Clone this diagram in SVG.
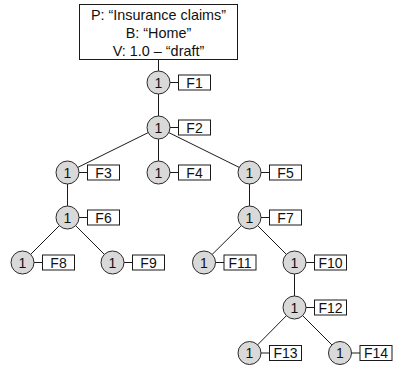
<svg xmlns="http://www.w3.org/2000/svg" width="397" height="367" viewBox="0 0 397 367">
  <style>
    .edge { stroke: #1a1a1a; stroke-width: 1; fill: none; }
    .node circle { fill: #d9d9d9; stroke: #2a2a2a; stroke-width: 1; }
    .node rect { fill: #ffffff; stroke: #1a1a1a; stroke-width: 1; }
    .node line { stroke: #1a1a1a; stroke-width: 1; }
    text { font-family: "Liberation Sans", Arial, sans-serif; font-size: 14px; fill: #111; text-anchor: middle; }
    .hdr { font-size: 14.4px; }
  </style>

  <!-- tree edges, drawn centre to centre under the circles -->
  <g id="connectors">
    <line class="edge" x1="158.5" y1="59.5" x2="158.5" y2="82.5"/>
    <line class="edge" x1="158.5" y1="82.5" x2="158.5" y2="127.5"/>
    <line class="edge" x1="158.5" y1="127.5" x2="67.5" y2="172.5"/>
    <line class="edge" x1="158.5" y1="127.5" x2="158.5" y2="172.5"/>
    <line class="edge" x1="158.5" y1="127.5" x2="249.5" y2="172.5"/>
    <line class="edge" x1="67.5" y1="172.5" x2="67.5" y2="217.5"/>
    <line class="edge" x1="67.5" y1="217.5" x2="22.5" y2="262.5"/>
    <line class="edge" x1="67.5" y1="217.5" x2="112.5" y2="262.5"/>
    <line class="edge" x1="249.5" y1="172.5" x2="249.5" y2="217.5"/>
    <line class="edge" x1="249.5" y1="217.5" x2="204" y2="262.5"/>
    <line class="edge" x1="249.5" y1="217.5" x2="294.5" y2="262.5"/>
    <line class="edge" x1="294.5" y1="262.5" x2="294.5" y2="307.5"/>
    <line class="edge" x1="294.5" y1="307.5" x2="249.5" y2="353"/>
    <line class="edge" x1="294.5" y1="307.5" x2="340" y2="353"/>
  </g>

  <!-- root header -->
  <g id="root">
    <rect x="79.5" y="4.5" width="158" height="55" fill="#fff" stroke="#1a1a1a"/>
    <text class="hdr" x="158.5" y="19.5">P: “Insurance claims”</text>
    <text class="hdr" x="158.5" y="37.5">B: “Home”</text>
    <text class="hdr" x="158.5" y="55.5">V: 1.0 – “draft”</text>
  </g>

  <g id="n1" class="node" transform="translate(158.5,82.5)">
    <line x1="11" y1="0" x2="20" y2="0"/><rect x="20" y="-7.5" width="32" height="15"/>
    <circle r="11.5"/><text y="5">1</text><text x="36" y="5">F1</text>
  </g>
  <g id="n2" class="node" transform="translate(158.5,127.5)">
    <line x1="11" y1="0" x2="20" y2="0"/><rect x="20" y="-7.5" width="32" height="15"/>
    <circle r="11.5"/><text y="5">1</text><text x="36" y="5">F2</text>
  </g>
  <g id="n3" class="node" transform="translate(67.5,172.5)">
    <line x1="11" y1="0" x2="20" y2="0"/><rect x="20" y="-7.5" width="32" height="15"/>
    <circle r="11.5"/><text y="5">1</text><text x="36" y="5">F3</text>
  </g>
  <g id="n4" class="node" transform="translate(158.5,172.5)">
    <line x1="11" y1="0" x2="20" y2="0"/><rect x="20" y="-7.5" width="32" height="15"/>
    <circle r="11.5"/><text y="5">1</text><text x="36" y="5">F4</text>
  </g>
  <g id="n5" class="node" transform="translate(249.5,172.5)">
    <line x1="11" y1="0" x2="20" y2="0"/><rect x="20" y="-7.5" width="32" height="15"/>
    <circle r="11.5"/><text y="5">1</text><text x="36" y="5">F5</text>
  </g>
  <g id="n6" class="node" transform="translate(67.5,217.5)">
    <line x1="11" y1="0" x2="20" y2="0"/><rect x="20" y="-7.5" width="32" height="15"/>
    <circle r="11.5"/><text y="5">1</text><text x="36" y="5">F6</text>
  </g>
  <g id="n7" class="node" transform="translate(249.5,217.5)">
    <line x1="11" y1="0" x2="20" y2="0"/><rect x="20" y="-7.5" width="32" height="15"/>
    <circle r="11.5"/><text y="5">1</text><text x="36" y="5">F7</text>
  </g>
  <g id="n8" class="node" transform="translate(22.5,262.5)">
    <line x1="11" y1="0" x2="20" y2="0"/><rect x="20" y="-7.5" width="32" height="15"/>
    <circle r="11.5"/><text y="5">1</text><text x="36" y="5">F8</text>
  </g>
  <g id="n9" class="node" transform="translate(112.5,262.5)">
    <line x1="11" y1="0" x2="20" y2="0"/><rect x="20" y="-7.5" width="32" height="15"/>
    <circle r="11.5"/><text y="5">1</text><text x="36" y="5">F9</text>
  </g>
  <g id="n11" class="node" transform="translate(204,262.5)">
    <line x1="11" y1="0" x2="20" y2="0"/><rect x="20" y="-7.5" width="32" height="15"/>
    <circle r="11.5"/><text y="5">1</text><text x="36" y="5">F11</text>
  </g>
  <g id="n10" class="node" transform="translate(294.5,262.5)">
    <line x1="11" y1="0" x2="20" y2="0"/><rect x="20" y="-7.5" width="32" height="15"/>
    <circle r="11.5"/><text y="5">1</text><text x="36" y="5">F10</text>
  </g>
  <g id="n12" class="node" transform="translate(294.5,307.5)">
    <line x1="11" y1="0" x2="20" y2="0"/><rect x="20" y="-7.5" width="32" height="15"/>
    <circle r="11.5"/><text y="5">1</text><text x="36" y="5">F12</text>
  </g>
  <g id="n13" class="node" transform="translate(249.5,353)">
    <line x1="11" y1="0" x2="20" y2="0"/><rect x="20" y="-7.5" width="32" height="15"/>
    <circle r="11.5"/><text y="5">1</text><text x="36" y="5">F13</text>
  </g>
  <g id="n14" class="node" transform="translate(340,353)">
    <line x1="11" y1="0" x2="20" y2="0"/><rect x="20" y="-7.5" width="32" height="15"/>
    <circle r="11.5"/><text y="5">1</text><text x="36" y="5">F14</text>
  </g>
</svg>
